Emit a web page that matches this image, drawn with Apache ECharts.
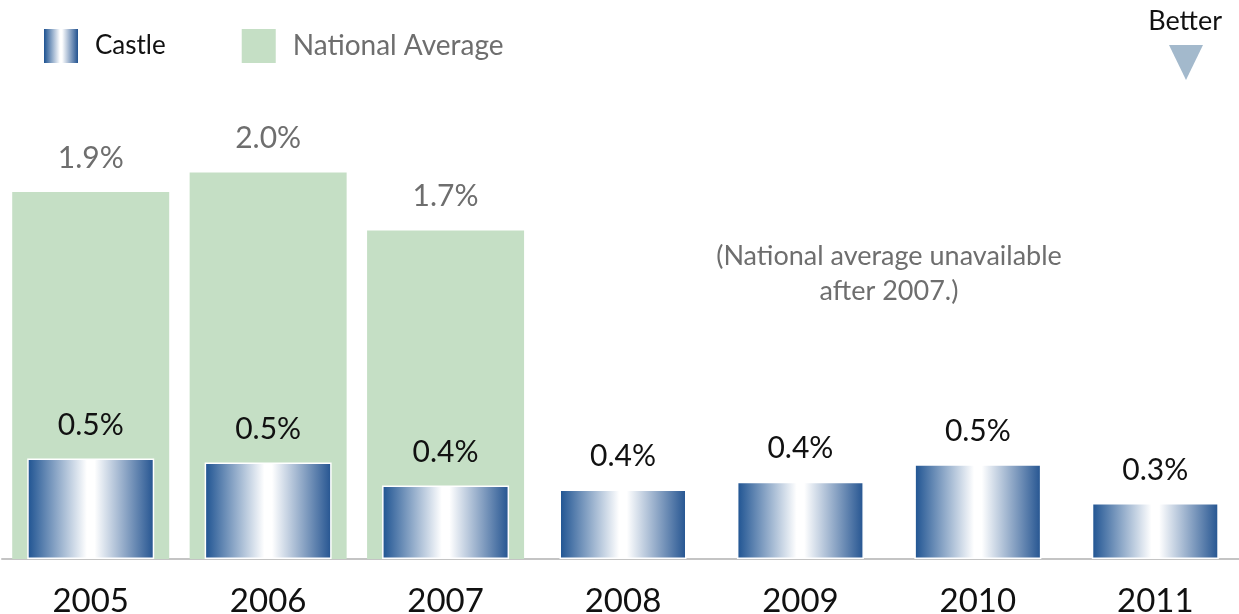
<!DOCTYPE html>
<html>
<head>
<meta charset="utf-8">
<script src="https://cdn.jsdelivr.net/npm/echarts@6/dist/echarts.min.js"></script>
<style>
  html, body { margin: 0; padding: 0; background: #fff; }
  #chart { width: 1239px; height: 614px; }
</style>
</head>
<body>
<div id="chart"></div>
<script>
// data (percent)
const years = ['2005', '2006', '2007', '2008', '2009', '2010', '2011'];
const castle = [0.52, 0.50, 0.38, 0.36, 0.40, 0.49, 0.29];
const national = [1.9, 2.0, 1.7, null, null, null, null];

const FONT = 'Lato, "Noto Sans", sans-serif';

// castle bars: dark blue at the edges, white in the middle
const castleFill = new echarts.graphic.LinearGradient(0, 0, 1, 0, [
  { offset: 0, color: '#1d5291' },
  { offset: 0.47, color: '#ffffff' },
  { offset: 0.53, color: '#ffffff' },
  { offset: 1, color: '#235390' },
]);

const pct = p => p.value.toFixed(1) + '%';

const chart = echarts.init(document.getElementById('chart'));

chart.setOption({
  animation: false,
  textStyle: { fontFamily: FONT },
  grid: { left: 2, width: 1242, top: 76, bottom: 55, outerBoundsMode: 'none', containLabel: false },
  legend: {
    left: 44,
    top: 29,
    padding: 0,
    icon: 'rect',
    itemWidth: 34,
    itemHeight: 34,
    itemGap: 76,
    selectedMode: false,
    data: [
      { name: 'Castle', textStyle: { color: '#111', fontSize: 26 }, itemStyle: { borderWidth: 0 } },
      { name: 'National Average', textStyle: { color: '#6e6e6e', fontSize: 28 } },
    ],
    textStyle: { fontFamily: FONT, padding: [0, 0, 0, 12] },
  },
  xAxis: [
    {
      type: 'category',
      data: years,
      axisLine: { lineStyle: { color: '#c4c4c4', width: 2 } },
      axisTick: { show: false },
      axisLabel: { color: '#111', fontSize: 33, margin: 26, fontFamily: FONT },
    },
    {
      type: 'category',
      data: years,
      position: 'bottom',
      show: false,
    },
  ],
  yAxis: {
    type: 'value',
    min: 0,
    max: 2.5,
    show: false,
  },
  series: [
    {
      name: 'National Average',
      type: 'bar',
      xAxisIndex: 1,
      data: national,
      barWidth: 157,
      itemStyle: { color: '#c5dfc5' },
      label: {
        show: true,
        position: 'top',
        distance: 19,
        color: '#6e6e6e',
        fontSize: 30,
        fontFamily: FONT,
        formatter: pct,
      },
      z: 1,
    },
    {
      name: 'Castle',
      type: 'bar',
      xAxisIndex: 0,
      data: castle,
      barWidth: 127,
      itemStyle: { color: castleFill, borderColor: '#fff', borderWidth: 1.5 },
      label: {
        show: true,
        position: 'top',
        distance: 18,
        color: '#111',
        fontSize: 30,
        fontFamily: FONT,
        formatter: pct,
      },
      z: 3,
    },
  ],
  graphic: [
    {
      type: 'text',
      right: 17,
      top: 8,
      style: { text: 'Better', fill: '#111', fontSize: 27, fontFamily: FONT },
    },
    {
      type: 'polygon',
      left: 1169,
      top: 45,
      shape: { points: [[0, 0], [34, 0], [17, 35]] },
      style: { fill: '#a3b9cc' },
    },
    {
      type: 'text',
      x: 889,
      y: 239,
      style: {
        text: '(National average unavailable\nafter 2007.)',
        fill: '#6e6e6e',
        fontSize: 27,
        lineHeight: 35,
        align: 'center',
        fontFamily: FONT,
      },
    },
  ],
});
</script>
</body>
</html>
